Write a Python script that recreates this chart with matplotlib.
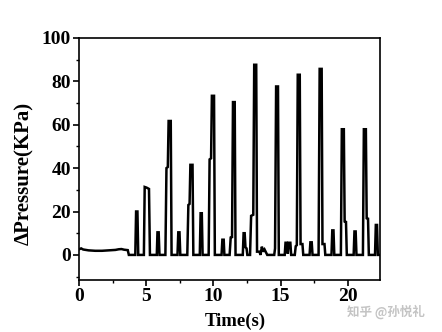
import matplotlib
matplotlib.use("Agg")
import matplotlib.pyplot as plt
from matplotlib.ticker import MultipleLocator

# Pressure trace: time (s) and pressure change (kPa)
time_s = [
    0.0, 0.15, 0.3, 0.7, 1.2, 1.7, 2.2, 2.7, 2.95, 3.15, 3.35, 3.62, 3.7,
    4.18, 4.24, 4.34, 4.40,
    4.82, 4.88, 5.02, 5.20, 5.27,
    5.78, 5.83, 5.92, 5.98,
    6.42, 6.50, 6.60, 6.66, 6.82, 6.88,
    7.32, 7.38, 7.47, 7.53,
    8.05, 8.13, 8.22, 8.28, 8.44, 8.50,
    8.98, 9.04, 9.13, 9.19,
    9.64, 9.71, 9.82, 9.88, 10.04, 10.10,
    10.60, 10.66, 10.76, 10.81,
    11.20, 11.28, 11.38, 11.45, 11.58, 11.64,
    12.18, 12.24, 12.32, 12.38, 12.46, 12.52,
    12.72, 12.80, 12.96, 13.03, 13.18, 13.24, 13.42, 13.50, 13.60, 13.70,
    13.80, 13.92, 14.00,
    14.52, 14.58, 14.66, 14.80, 14.86,
    15.30, 15.36, 15.46, 15.53, 15.60, 15.72, 15.78,
    16.05, 16.12, 16.20, 16.27, 16.42, 16.48, 16.62, 16.68,
    17.15, 17.21, 17.31, 17.37,
    17.82, 17.90, 18.05, 18.11, 18.26, 18.32,
    18.78, 18.84, 18.93, 18.99,
    19.48, 19.55, 19.70, 19.76, 19.86, 19.92,
    20.43, 20.49, 20.58, 20.64,
    21.12, 21.19, 21.34, 21.40, 21.50, 21.56,
    22.02, 22.08, 22.17, 22.23, 22.40,
]
pressure_kpa = [
    2.6, 3.0, 2.5, 2.1, 1.9, 1.9, 2.1, 2.3, 2.6, 2.7, 2.4, 2.2, 0.0,
    0.0, 20.0, 20.0, 0.0,
    0.0, 31.3, 31.0, 30.4, 0.0,
    0.0, 10.4, 10.4, 0.0,
    0.0, 40.0, 40.5, 61.7, 61.7, 0.0,
    0.0, 10.4, 10.4, 0.0,
    0.0, 23.0, 23.5, 41.5, 41.5, 0.0,
    0.0, 19.2, 19.2, 0.0,
    0.0, 44.0, 44.5, 73.3, 73.3, 0.0,
    0.0, 7.0, 7.0, 0.0,
    0.0, 8.0, 8.2, 70.4, 70.4, 0.0,
    0.0, 10.0, 10.0, 3.5, 3.0, 0.0,
    0.0, 18.0, 18.5, 87.6, 87.6, 1.5, 1.5, 0.0, 3.8, 1.5,
    2.5, 1.0, 0.0,
    0.0, 3.0, 77.6, 77.6, 0.0,
    0.0, 5.6, 5.6, 0.5, 5.6, 5.6, 0.0,
    0.0, 4.0, 4.5, 83.0, 83.0, 5.0, 5.0, 0.0,
    0.0, 5.8, 5.8, 0.0,
    0.0, 85.7, 85.7, 5.0, 5.0, 0.0,
    0.0, 11.3, 11.3, 0.0,
    0.0, 57.9, 57.9, 15.4, 15.2, 0.0,
    0.0, 10.8, 10.8, 0.0,
    0.0, 57.9, 57.9, 16.9, 16.7, 0.0,
    0.0, 13.8, 13.8, 0.0, 0.0,
]

x_ticks = [0, 5, 10, 15, 20]
y_ticks = [0, 20, 40, 60, 80, 100]

plt.rcParams["font.family"] = ["Liberation Serif", "DejaVu Serif"]
plt.rcParams["font.weight"] = "bold"

fig = plt.figure(figsize=(4.42, 3.32), dpi=100)
ax = fig.add_axes([0.179, 0.157, 0.681, 0.729])

ax.plot(time_s, pressure_kpa, color="black", lw=1.8, solid_joinstyle="miter")

ax.set_xlim(0, 22.4)
ax.set_ylim(-11.5, 100)
ax.set_xticks(x_ticks)
ax.set_yticks(y_ticks)
ax.xaxis.set_minor_locator(MultipleLocator(2.5))
ax.yaxis.set_minor_locator(MultipleLocator(10))
ax.tick_params(which="major", direction="out", length=4, width=1.2,
               labelsize=14, pad=2)
ax.tick_params(which="minor", direction="out", length=2.5, width=1.0)
for lbl in ax.get_xticklabels() + ax.get_yticklabels():
    lbl.set_fontweight("bold")
for sp in ax.spines.values():
    sp.set_linewidth(1.2)

ax.set_xlabel("Time(s)", fontsize=13.5, fontweight="bold")
ax.set_ylabel("ΔPressure(KPa)", fontsize=15, fontweight="bold")
ax.xaxis.set_label_coords(0.52, -0.135)
ax.yaxis.set_label_coords(-0.15, 0.44)

fig.text(0.785, 0.06, "知乎 @孙悦礼", fontsize=9, color="#c4c4c4",
         family=["Noto Sans CJK SC", "DejaVu Sans"], va="center", ha="left")

fig.savefig("out.png", dpi=100)
